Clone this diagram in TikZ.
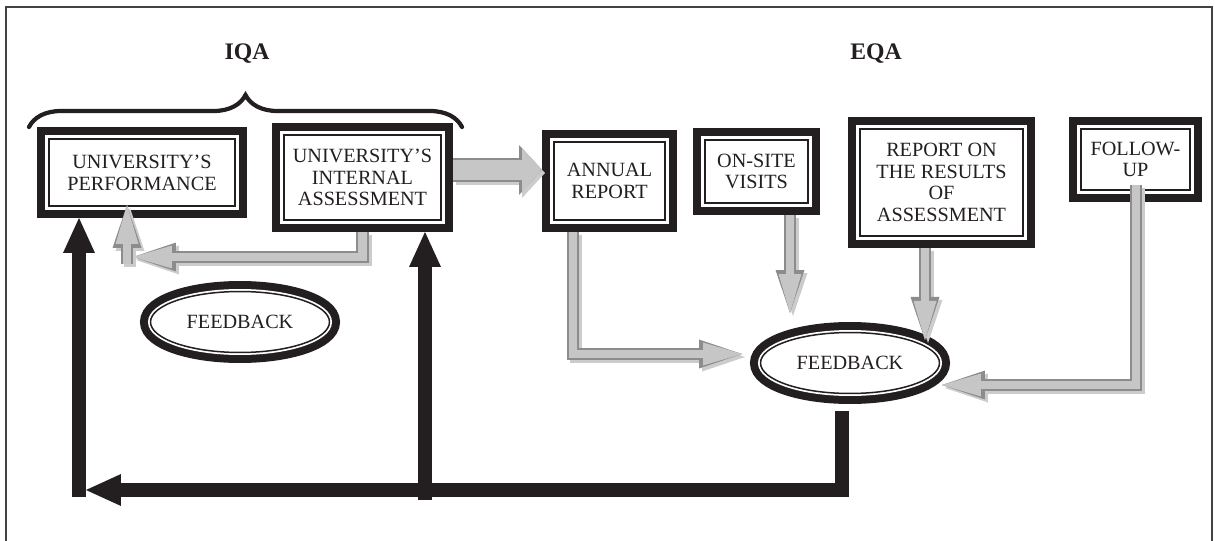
\documentclass[tikz,border=0pt]{standalone}
\usepackage{fontspec}
\setmainfont{Liberation Serif}
\usetikzlibrary{shapes.geometric, arrows.meta, decorations.pathreplacing, calc}

\definecolor{ink}{HTML}{231F20}
\newcommand{\boxfont}{\fontsize{11.5}{12.4}\selectfont}

\tikzset{
  qabox/.style={rectangle, align=center, inner sep=0pt, outer sep=0.23cm, text=ink, font=\boxfont,
    preaction={draw=ink, line width=0.46cm},
    preaction={draw=white, line width=0.14cm},
    preaction={fill=white},
    draw=ink, line width=0.04cm},
  fback/.style={ellipse, align=center, inner sep=0pt, outer sep=0.21cm, text=ink, font=\boxfont,
    minimum width=3.58cm, minimum height=1.22cm,
    preaction={draw=ink, line width=0.42cm},
    preaction={draw=white, line width=0.1cm},
    preaction={fill=white},
    draw=ink, line width=0.03cm},
  qatitle/.style={text=ink, font=\fontsize{13.5}{15}\selectfont\bfseries},
  brc/.style={draw=ink, line width=2.4pt, line cap=round, decorate, decoration={brace, amplitude=0.64cm}},
  greyarr/.style={draw=gray!45, line width=0.17cm,
    -{Triangle[width=0.46cm, length=0.78cm, line width=0pt]},
    preaction={draw=gray!40, line width=0.25cm, -{Triangle[width=0.58cm, length=0.86cm, line width=0pt]},
      transform canvas={shift={(0.06cm,-0.06cm)}}},
    preaction={draw=gray!90, line width=0.25cm, -{Triangle[width=0.58cm, length=0.86cm, line width=0pt]}}},
  widearr/.style={draw=gray!45, line width=0.42cm,
    -{Triangle[width=0.88cm, length=0.4cm, line width=0pt]},
    preaction={draw=gray!40, line width=0.5cm, -{Triangle[width=1.0cm, length=0.46cm, line width=0pt]},
      transform canvas={shift={(0.06cm,-0.06cm)}}},
    preaction={draw=gray!90, line width=0.5cm, -{Triangle[width=1.0cm, length=0.46cm, line width=0pt]}}},
  blkarr/.style={draw=ink, line width=0.28cm, -{Triangle[width=0.64cm, length=0.7cm, line width=0pt]}}
}

\begin{document}
\begin{tikzpicture}[x=0.02cm, y=-0.02cm]
  \useasboundingbox (0,0) rectangle (1215,541);
  % frame, open at the bottom
  \draw[line width=0.8pt, ink!85] (6,541) -- (6,7) -- (1212,7) -- (1212,541);

  \node[qatitle] (iqa) at (247,54) {IQA};
  \node[qatitle] (eqa) at (876,54) {EQA};

  % IQA
  \draw (142,172.5)  node[qabox, minimum width=3.74cm, minimum height=1.36cm] (perf) {UNIVERSITY'S\\PERFORMANCE};
  \draw (362.5,177.5) node[qabox, minimum width=3.16cm, minimum height=1.72cm] (internal) {UNIVERSITY'S\\INTERNAL\\ASSESSMENT};
  \draw (240,322)    node[fback] (fbi) {FEEDBACK};
  \draw[brc] (29,127) -- (462,127);

  % EQA
  \draw (609.5,181)  node[qabox, minimum width=2.24cm, minimum height=1.58cm] (annual) {ANNUAL\\REPORT};
  \draw (756.5,171.5) node[qabox, minimum width=2.08cm, minimum height=1.28cm] (onsite) {ON-SITE\\VISITS};
  \draw (941.5,182.5) node[qabox, minimum width=3.28cm, minimum height=2.16cm] (report) {REPORT ON\\THE RESULTS\\OF\\ASSESSMENT};
  \draw (1135.5,159.5) node[qabox, minimum width=2.20cm, minimum height=1.24cm] (follow) {FOLLOW-\\UP};
  \draw (850,363)    node[fback] (fbe) {FEEDBACK};

  % grey arrows
  \draw[greyarr] (internal.south) |- (133,257);
  \draw[greyarr] (127,264) -- ($(perf.south -| 127,0)+(0,-13)$);
  \draw[widearr] (internal.east |- 0,170) -- (annual.west |- 0,170);
  \draw[greyarr] (annual.south -| 573,0) |- ($(fbe.west)+(-8,-9)$);
  \draw[greyarr] (onsite.south -| 790,0) -- ++(0,98);
  \draw[greyarr] (report.south -| 925,0) -- ++(0,92);
  \draw[greyarr] ($(follow.south -| 1136,0)+(0,-17)$) |- ($(fbe.east)+(-8,22)$);

  % black return path
  \coordinate (retL) at (86,490);
  \coordinate (baseL) at (79,497);
  \coordinate (baseM) at (425,500);
  \draw[blkarr] ($(fbe.south)+(-8,7)$) |- (retL);
  \draw[blkarr] (baseL) -- (perf.south -| 79,0);
  \draw[blkarr] (baseM) -- (internal.south -| 425,0);
\end{tikzpicture}
\end{document}
